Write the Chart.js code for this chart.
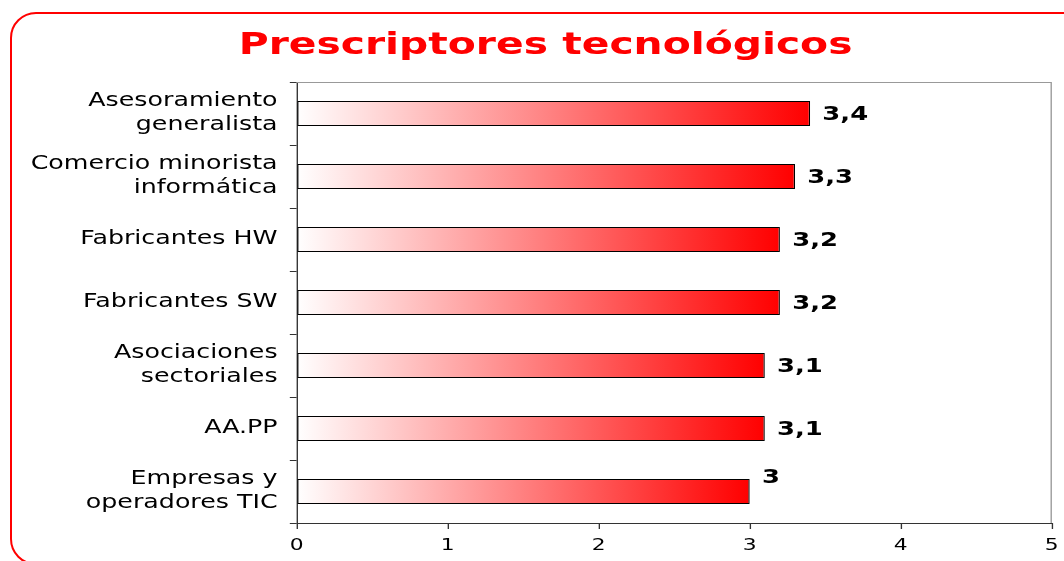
<!DOCTYPE html>
<html>
<head>
<meta charset="utf-8">
<script src="https://cdn.jsdelivr.net/npm/chart.js@4"></script>
<style>
  html, body { margin: 0; padding: 0; background: #fff; overflow: hidden; }
  .frame {
    position: absolute; left: 10px; top: 12px; width: 1100px; height: 549px;
    border: 2px solid #ff0000; border-radius: 26px;
  }
  #myChart { position: absolute; left: 0; top: 0; }
</style>
</head>
<body>
<div class="frame"></div>
<canvas id="myChart" width="782" height="561"></canvas>
<script>
const titleText = 'Prescriptores tecnológicos';
const categories = [
    ['Asesoramiento', 'generalista'],
    ['Comercio minorista', 'informática'],
    'Fabricantes HW',
    'Fabricantes SW',
    ['Asociaciones', 'sectoriales'],
    'AA.PP',
    ['Empresas y', 'operadores TIC']
];
const values = [3.4, 3.3, 3.2, 3.2, 3.1, 3.1, 3.0];
const valueLabels = ['3,4', '3,3', '3,2', '3,2', '3,1', '3,1', '3'];
const xTicks = [0, 1, 2, 3, 4, 5];

const fontFamily = '"DejaVu Sans", Verdana, sans-serif';
// the original picture is stretched sideways, so the chart is laid out narrower and widened on draw
const STRETCH = 1064 / 782;

// white-to-red fill running along each bar
function barFill(context) {
    const chart = context.chart;
    if (!chart.chartArea || context.parsed === undefined) return '#ff4040';
    const x0 = chart.scales.x.getPixelForValue(0);
    const x1 = chart.scales.x.getPixelForValue(context.parsed.x);
    const g = chart.ctx.createLinearGradient(x0, 0, x1, 0);
    g.addColorStop(0, '#ffffff');
    g.addColorStop(1, '#ff0000');
    return g;
}

const frameLines = {
    id: 'frameLines',
    beforeDatasetsDraw(chart) {
        const { ctx, chartArea: a } = chart;
        ctx.save();
        ctx.strokeStyle = '#999999';
        ctx.lineWidth = 1;
        ctx.beginPath();
        ctx.moveTo(a.left, a.top + 0.5);
        ctx.lineTo(a.right - 0.4, a.top + 0.5);
        ctx.lineTo(a.right - 0.4, a.bottom);
        ctx.stroke();
        ctx.restore();
    }
};

// title centred where the original has it, a bit left of the plot centre
const titleDraw = {
    id: 'titleDraw',
    afterDraw(chart) {
        const { ctx } = chart;
        ctx.save();
        ctx.font = 'bold 30px ' + fontFamily;
        ctx.fillStyle = '#ff0000';
        ctx.textAlign = 'center';
        ctx.textBaseline = 'middle';
        ctx.fillText(titleText, 401, 46);
        ctx.restore();
    }
};

const barValues = {
    id: 'barValues',
    afterDatasetsDraw(chart) {
        const { ctx } = chart;
        const meta = chart.getDatasetMeta(0);
        ctx.save();
        ctx.font = 'bold 19px ' + fontFamily;
        ctx.fillStyle = '#000';
        ctx.textBaseline = 'middle';
        meta.data.forEach((bar, i) => {
            // the last label sits above its bar in the original
            const dy = valueLabels[i].length === 1 ? -13 : 2;
            ctx.fillText(valueLabels[i], bar.x + 9, bar.y + dy);
        });
        ctx.restore();
    }
};

const canvas = document.getElementById('myChart');

const myChart = new Chart(canvas, {
    type: 'bar',
    data: {
        labels: categories,
        datasets: [{
            data: values,
            backgroundColor: barFill,
            borderColor: '#000',
            borderWidth: 1,
            borderSkipped: false,
            categoryPercentage: 1,
            barPercentage: 0.397
        }]
    },
    options: {
        indexAxis: 'y',
        responsive: false,
        devicePixelRatio: 1,
        animation: false,
        events: [],
        layout: { padding: { left: 0, right: 9, top: 82, bottom: 0 } },
        plugins: {
            legend: { display: false },
            tooltip: { enabled: false },
            title: { display: false }
        },
        scales: {
            x: {
                min: 0,
                max: 5,
                afterBuildTicks(scale) {
                    scale.ticks = xTicks.map(v => ({ value: v }));
                },
                afterFit(scale) {
                    scale.height = 38;
                    scale.paddingLeft = 0;
                    scale.paddingRight = 0;
                },
                grid: {
                    drawOnChartArea: false,
                    drawTicks: true,
                    tickLength: 6,
                    color: '#333'
                },
                border: { color: '#333', width: 1 },
                ticks: {
                    color: '#000',
                    padding: 7,
                    font: { family: fontFamily, size: 16 }
                }
            },
            y: {
                afterFit(scale) { scale.width = 218; },
                grid: {
                    offset: true,
                    drawOnChartArea: false,
                    drawTicks: true,
                    tickLength: 5,
                    color: '#333'
                },
                border: { color: '#333', width: 1 },
                ticks: {
                    color: '#000',
                    padding: 9,
                    font: { family: fontFamily, size: 18.6, lineHeight: 1.29 }
                }
            }
        }
    },
    plugins: [frameLines, barValues, titleDraw]
});

// widen the bitmap and redraw with the sideways stretch
canvas.width = 1064;
canvas.style.width = '1064px';
canvas.style.height = '561px';
myChart.ctx.setTransform(STRETCH, 0, 0, 1, 0, 0);
myChart.draw();
</script>
</body>
</html>
